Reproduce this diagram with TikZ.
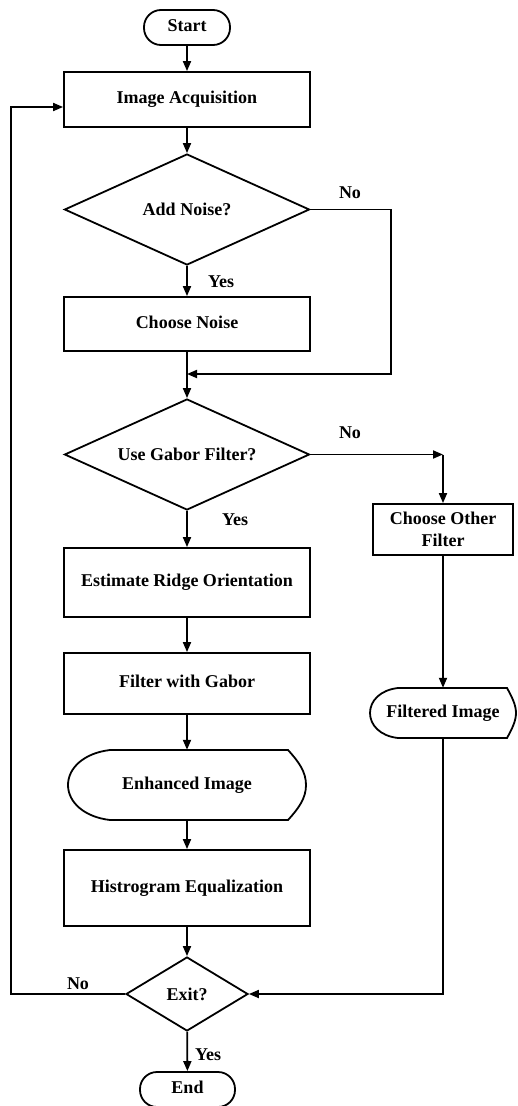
\documentclass[tikz,border=0pt]{standalone}
\usepackage{fontspec}
\setmainfont{Liberation Serif}
\usetikzlibrary{shapes.geometric,arrows.meta}
\begin{document}
\begin{tikzpicture}[x=1pt,y=-1pt,
  every node/.style={font=\fontsize{18}{22}\selectfont\bfseries},
  line/.style={line width=1.8pt, draw=black},
  arr/.style={line, -{Triangle[length=10pt,width=8pt]}},
  procbox/.style={line, rectangle, minimum width=246pt, inner sep=0pt, text height=12.5pt, text depth=4pt},
  termbox/.style={line, rectangle, rounded corners=17pt, inner sep=0pt, text height=12.5pt, text depth=4pt},
  decision/.style={line, diamond, aspect=2.2, inner sep=0pt},
  lbl/.style={inner sep=0pt}
]
\useasboundingbox[fill=white] (0,0) rectangle (517,1106);

% nodes
\node[termbox, minimum width=86pt, minimum height=35pt] (start) at (187,27.5) {Start};
\node[procbox, minimum height=55pt] (acq) at (187,99.5) {Image Acquisition};
\node[decision, minimum width=245pt, minimum height=111pt] (add) at (187,209.5) {Add Noise?};
\node[procbox, minimum height=54pt] (noise) at (187,324) {Choose Noise};
\node[decision, minimum width=245pt, minimum height=111pt] (gabor) at (187,454.5) {Use Gabor Filter?};
\node[line, rectangle, minimum width=140pt, minimum height=51pt, align=center, inner sep=0pt] (other) at (443,529.5) {Choose Other\\Filter};
\node[procbox, minimum height=69pt] (est) at (187,582.5) {Estimate Ridge Orientation};
\node[procbox, minimum height=61pt] (fg) at (187,683.5) {Filter with Gabor};
\node[minimum width=238pt, minimum height=70pt, inner sep=0pt, text height=12.5pt, text depth=4pt] (enh) at (187,785) {Enhanced Image};
\node[minimum width=146pt, minimum height=50pt, inner sep=0pt, text height=12.5pt, text depth=4pt] (filt) at (443,713) {Filtered Image};
\node[procbox, minimum height=76pt] (hist) at (187,888) {Histrogram Equalization};
\node[decision, aspect=1.65, minimum width=122pt, minimum height=74pt] (exit) at (187,994) {Exit?};
\node[termbox, minimum width=95pt, minimum height=35pt] (end) at (187.5,1089.5) {End};

% display shapes
\draw[line] (110,750) -- (288,750) .. controls (299,762) and (306,772) .. (306,785)
  .. controls (306,798) and (299,808) .. (288,820) -- (110,820)
  .. controls (84,817) and (68,802) .. (68,785)
  .. controls (68,768) and (84,753) .. (110,750) -- cycle;
\draw[line] (398,688) -- (507,688) .. controls (512,697) and (516,705) .. (516,713)
  .. controls (516,721) and (512,729) .. (507,738) -- (398,738)
  .. controls (380,736) and (370,725) .. (370,713)
  .. controls (370,701) and (380,690) .. (398,688) -- cycle;

% coordinates
\coordinate (nr) at (391,374);
\coordinate (j1) at (187,374);
\coordinate (gc) at (443,454.5);
\coordinate (lp) at (11,107);

% connectors
\draw[arr] (start) -- (acq);
\draw[arr] (acq) -- (add);
\draw[arr] (add) -- (noise);
\draw[arr] (add.east) -| (nr) -- (j1);
\draw[arr] (noise) -- (gabor);
\draw[arr] (gabor.east) -- (gc);
\draw[arr] (gc) -- (other.north);
\draw[arr] (gabor) -- (est);
\draw[arr] (est) -- (fg);
\draw[arr] (fg) -- (enh);
\draw[arr] (enh) -- (hist);
\draw[arr] (hist) -- (exit);
\draw[arr] (other) -- (filt);
\draw[arr] (filt.south) |- (exit.east);
\draw[arr] (exit.west) -| (lp) -- (acq.west |- lp);
\draw[arr] (exit) -- (end);

% labels
\node[lbl] (l1) at (350,193) {No};
\node[lbl] (l2) at (221,282) {Yes};
\node[lbl] (l3) at (350,433) {No};
\node[lbl] (l4) at (235,520) {Yes};
\node[lbl] (l5) at (78,984) {No};
\node[lbl] (l6) at (208,1055) {Yes};
\end{tikzpicture}
\end{document}
